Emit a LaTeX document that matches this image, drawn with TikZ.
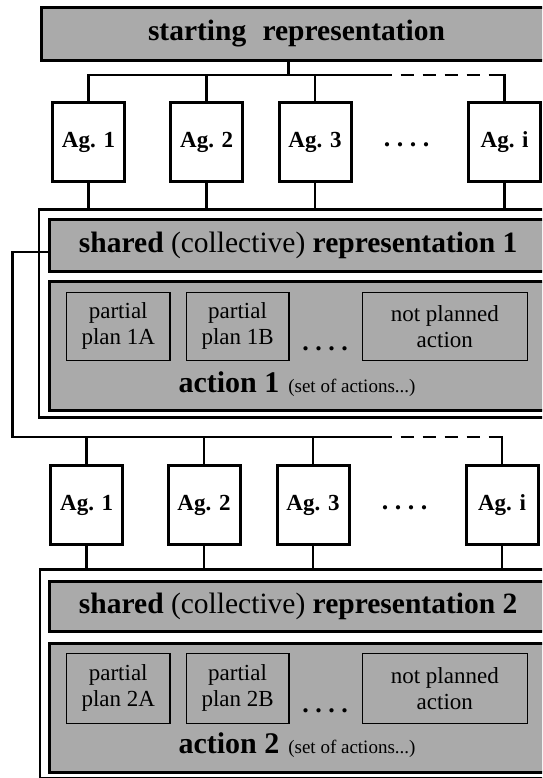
\documentclass[tikz,border=0pt]{standalone}
\usepackage{fontspec}
\setmainfont{Liberation Serif}
\definecolor{halftone}{RGB}{170,170,170}
\begin{document}
\begin{tikzpicture}[x=1pt,y=-1pt,
  conn/.style={line width=2.8pt},
  busdash/.style={line width=2.8pt, dash pattern=on 13pt off 9pt, dash phase=13pt},
  graybox/.style={draw, line width=3pt, fill=halftone, inner sep=0pt, anchor=north west},
  agent/.style={draw, fill=white, line width=3pt, minimum width=72pt, minimum height=79pt,
    inner sep=0pt, font=\fontsize{23}{23}\selectfont\bfseries},
  plan/.style={draw, line width=1.2pt, fill=halftone, inner sep=0pt, anchor=north west,
    align=center, font=\fontsize{23}{26}\selectfont},
  outerframe/.style={draw, line width=2.6pt, fill=white, anchor=north west, inner sep=0pt},
  dotrow/.style={font=\fontsize{26}{26}\selectfont\bfseries, inner sep=0pt},
  bigtext/.style={font=\fontsize{29.5}{29.5}\selectfont, inner sep=0pt}
]
\useasboundingbox (0,0) rectangle (542,778);
\clip (0,0) rectangle (542,778);
\fill[white] (0,0) rectangle (542,778);

% starting representation
\node[graybox, minimum width=510pt, minimum height=53pt, bigtext] (start) at (40,6)
  {\bfseries starting\hspace{0.55em}representation};

% first row of agents
\node[agent] (a1) at (88.5,142) {Ag. 1};
\node[agent] (a2) at (206.7,142) {Ag. 2};
\node[agent] (a3) at (315,142) {Ag. 3};
\node[dotrow] (d1) at (406.7,145) {.\hspace{6.5pt}.\hspace{6.5pt}.\hspace{6.5pt}.};
\node[agent] (ai) at (504.6,142) {Ag. i};

% first shared representation and action
\node[outerframe, minimum width=520pt, minimum height=208pt] (frame1) at (37.5,208) {};
\node[graybox, minimum width=496.7pt, minimum height=52pt, bigtext] (shared1) at (48.3,218.3)
  {\textbf{shared} (collective) \textbf{representation 1}};
\node[graybox, minimum width=496.7pt, minimum height=129pt] (action1) at (48.3,280) {};
\node[plan, minimum width=103.3pt, minimum height=68.3pt] (p1a) at (66,291.7) {partial\\plan 1A};
\node[plan, minimum width=102.6pt, minimum height=68.3pt] (p1b) at (185.7,291.7) {partial\\plan 1B};
\node[dotrow] (d1b) at (325,349) {.\hspace{6.5pt}.\hspace{6.5pt}.\hspace{6.5pt}.};
\node[plan, minimum width=165pt, minimum height=68.3pt] (np1) at (361.7,291.7) {not planned\\action};
\node[inner sep=0pt] (act1) at (297,384)
  {{\fontsize{30}{30}\selectfont\bfseries action 1}\hspace{9pt}{\fontsize{19}{19}\selectfont (set of actions...)}};

% second row of agents
\node[agent] (b1) at (86.7,505) {Ag. 1};
\node[agent] (b2) at (204,505) {Ag. 2};
\node[agent] (b3) at (313,505) {Ag. 3};
\node[dotrow] (d2) at (404.5,508) {.\hspace{6.5pt}.\hspace{6.5pt}.\hspace{6.5pt}.};
\node[agent] (bi) at (502,505) {Ag. i};

% second shared representation and action
\node[outerframe, minimum width=520pt, minimum height=209pt] (frame2) at (38.7,568) {};
\node[graybox, minimum width=496.7pt, minimum height=50pt, bigtext] (shared2) at (48.3,580)
  {\textbf{shared} (collective) \textbf{representation 2}};
\node[graybox, minimum width=496.7pt, minimum height=129pt] (action2) at (48.3,641.7) {};
\node[plan, minimum width=103.3pt, minimum height=69.7pt] (p2a) at (66,653) {partial\\plan 2A};
\node[plan, minimum width=102.6pt, minimum height=69.7pt] (p2b) at (185.7,653) {partial\\plan 2B};
\node[dotrow] (d2b) at (325,711) {.\hspace{6.5pt}.\hspace{6.5pt}.\hspace{6.5pt}.};
\node[plan, minimum width=165pt, minimum height=69.7pt] (np2) at (361.7,653) {not planned\\action};
\node[inner sep=0pt] (act2) at (297,745)
  {{\fontsize{30}{30}\selectfont\bfseries action 2}\hspace{9pt}{\fontsize{19}{19}\selectfont (set of actions...)}};

% distribution of the starting representation to the agents
\coordinate (tap1) at (288.5,75);
\coordinate (bus1) at (391.7,75);
\coordinate (corner1) at (ai.north |- bus1);
\draw[conn] (start.south -| tap1) -- (tap1);
\draw[conn] (a1.north) |- (bus1);
\draw[busdash] (bus1) -- (corner1);
\draw[conn] ([xshift=-4pt]corner1) -| (ai.north);
\foreach \n in {a2,a3} \draw[conn] (\n.north) -- (\n.north |- bus1);
\foreach \n in {a1,a2,a3,ai} \draw[conn] (\n.south) -- (\n.south |- frame1.north);

% feedback of representation 1 to the agents
\coordinate (loopturn) at (12.5,252);
\coordinate (bus2) at (391.7,437);
\coordinate (corner2) at (bi.north |- bus2);
\draw[conn] (shared1.west |- loopturn) -- (loopturn) |- (bus2);
\draw[busdash] (bus2) -- (corner2);
\draw[conn] ([xshift=-4pt]corner2) -| (bi.north);
\foreach \n in {b1,b2,b3} \draw[conn] (\n.north) -- (\n.north |- bus2);
\foreach \n in {b1,b2,b3,bi} \draw[conn] (\n.south) -- (\n.south |- frame2.north);
\end{tikzpicture}
\end{document}
